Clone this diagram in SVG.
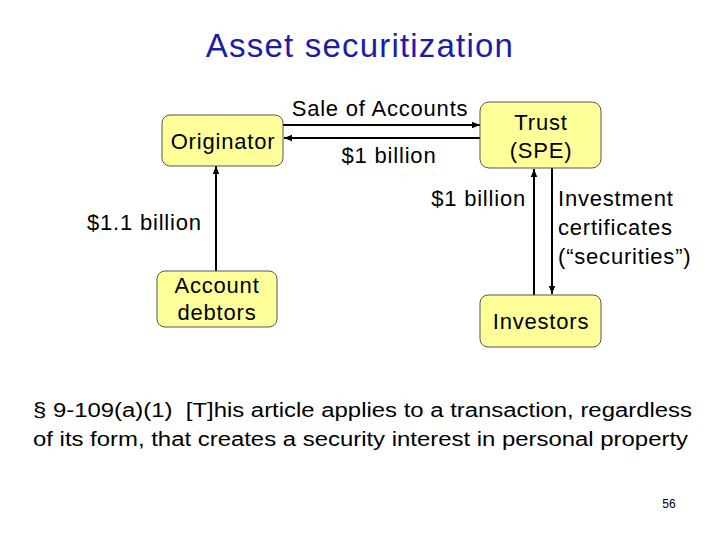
<svg xmlns="http://www.w3.org/2000/svg" width="720" height="540" viewBox="0 0 720 540">
<style>
text{font-family:"Liberation Sans",Arial,sans-serif;fill:#000}
.t{font-size:22px;letter-spacing:0.8px}
.f{font-size:20px}
.box{fill:#FFFF99;stroke:#555;stroke-width:1}
.ln{stroke:#000;stroke-width:2;fill:none}
</style>
<defs>
<marker id="ah" viewBox="0 0 10 10" refX="10" refY="5" markerWidth="4" markerHeight="4" orient="auto"><path d="M0,1 L10,5 L0,9 z" fill="#000"/></marker>
</defs>
<rect width="720" height="540" fill="#fff"/>
<text x="360" y="57" text-anchor="middle" style="font-size:33px;letter-spacing:1.2px;fill:#1c1ca8">Asset securitization</text>
<g id="connectors">
<line class="ln" x1="283" y1="125" x2="480" y2="125" marker-end="url(#ah)"/>
<line class="ln" x1="480" y1="138" x2="284" y2="138" marker-end="url(#ah)"/>
<line class="ln" x1="216" y1="271" x2="216" y2="166" marker-end="url(#ah)"/>
<line class="ln" x1="534" y1="295" x2="534" y2="169" marker-end="url(#ah)"/>
<line class="ln" x1="552" y1="168" x2="552" y2="294" marker-end="url(#ah)"/>
<text class="t" x="380" y="116" text-anchor="middle">Sale of Accounts</text>
<text class="t" x="389" y="163" text-anchor="middle">$1 billion</text>
<text class="t" x="87" y="230">$1.1 billion</text>
<text class="t" x="526" y="206" text-anchor="end">$1 billion</text>
<text class="t" x="558" y="206">Investment</text>
<text class="t" x="558" y="235">certificates</text>
<text class="t" x="558" y="264">(“securities”)</text>
</g>
<g id="originator">
<rect class="box" x="162" y="115" width="121" height="51" rx="8"/>
<text class="t" x="223" y="149" text-anchor="middle">Originator</text>
</g>
<g id="trust">
<rect class="box" x="480" y="102" width="121" height="66" rx="9"/>
<text class="t" x="541" y="130" text-anchor="middle">Trust</text>
<text class="t" x="541" y="158" text-anchor="middle">(SPE)</text>
</g>
<g id="debtors">
<rect class="box" x="157" y="271" width="120" height="56" rx="8"/>
<text class="t" x="217" y="293" text-anchor="middle">Account</text>
<text class="t" x="217" y="320" text-anchor="middle">debtors</text>
</g>
<g id="investors">
<rect class="box" x="480" y="295" width="121" height="52" rx="8"/>
<text class="t" x="541" y="329" text-anchor="middle">Investors</text>
</g>
<text class="f" x="33" y="417" textLength="659" lengthAdjust="spacingAndGlyphs">§ 9-109(a)(1) &#160;[T]his article applies to a transaction, regardless</text>
<text class="f" x="33" y="446" textLength="655" lengthAdjust="spacingAndGlyphs">of its form, that creates a security interest in personal property</text>
<text x="669" y="508" text-anchor="middle" style="font-size:12px">56</text>
</svg>
